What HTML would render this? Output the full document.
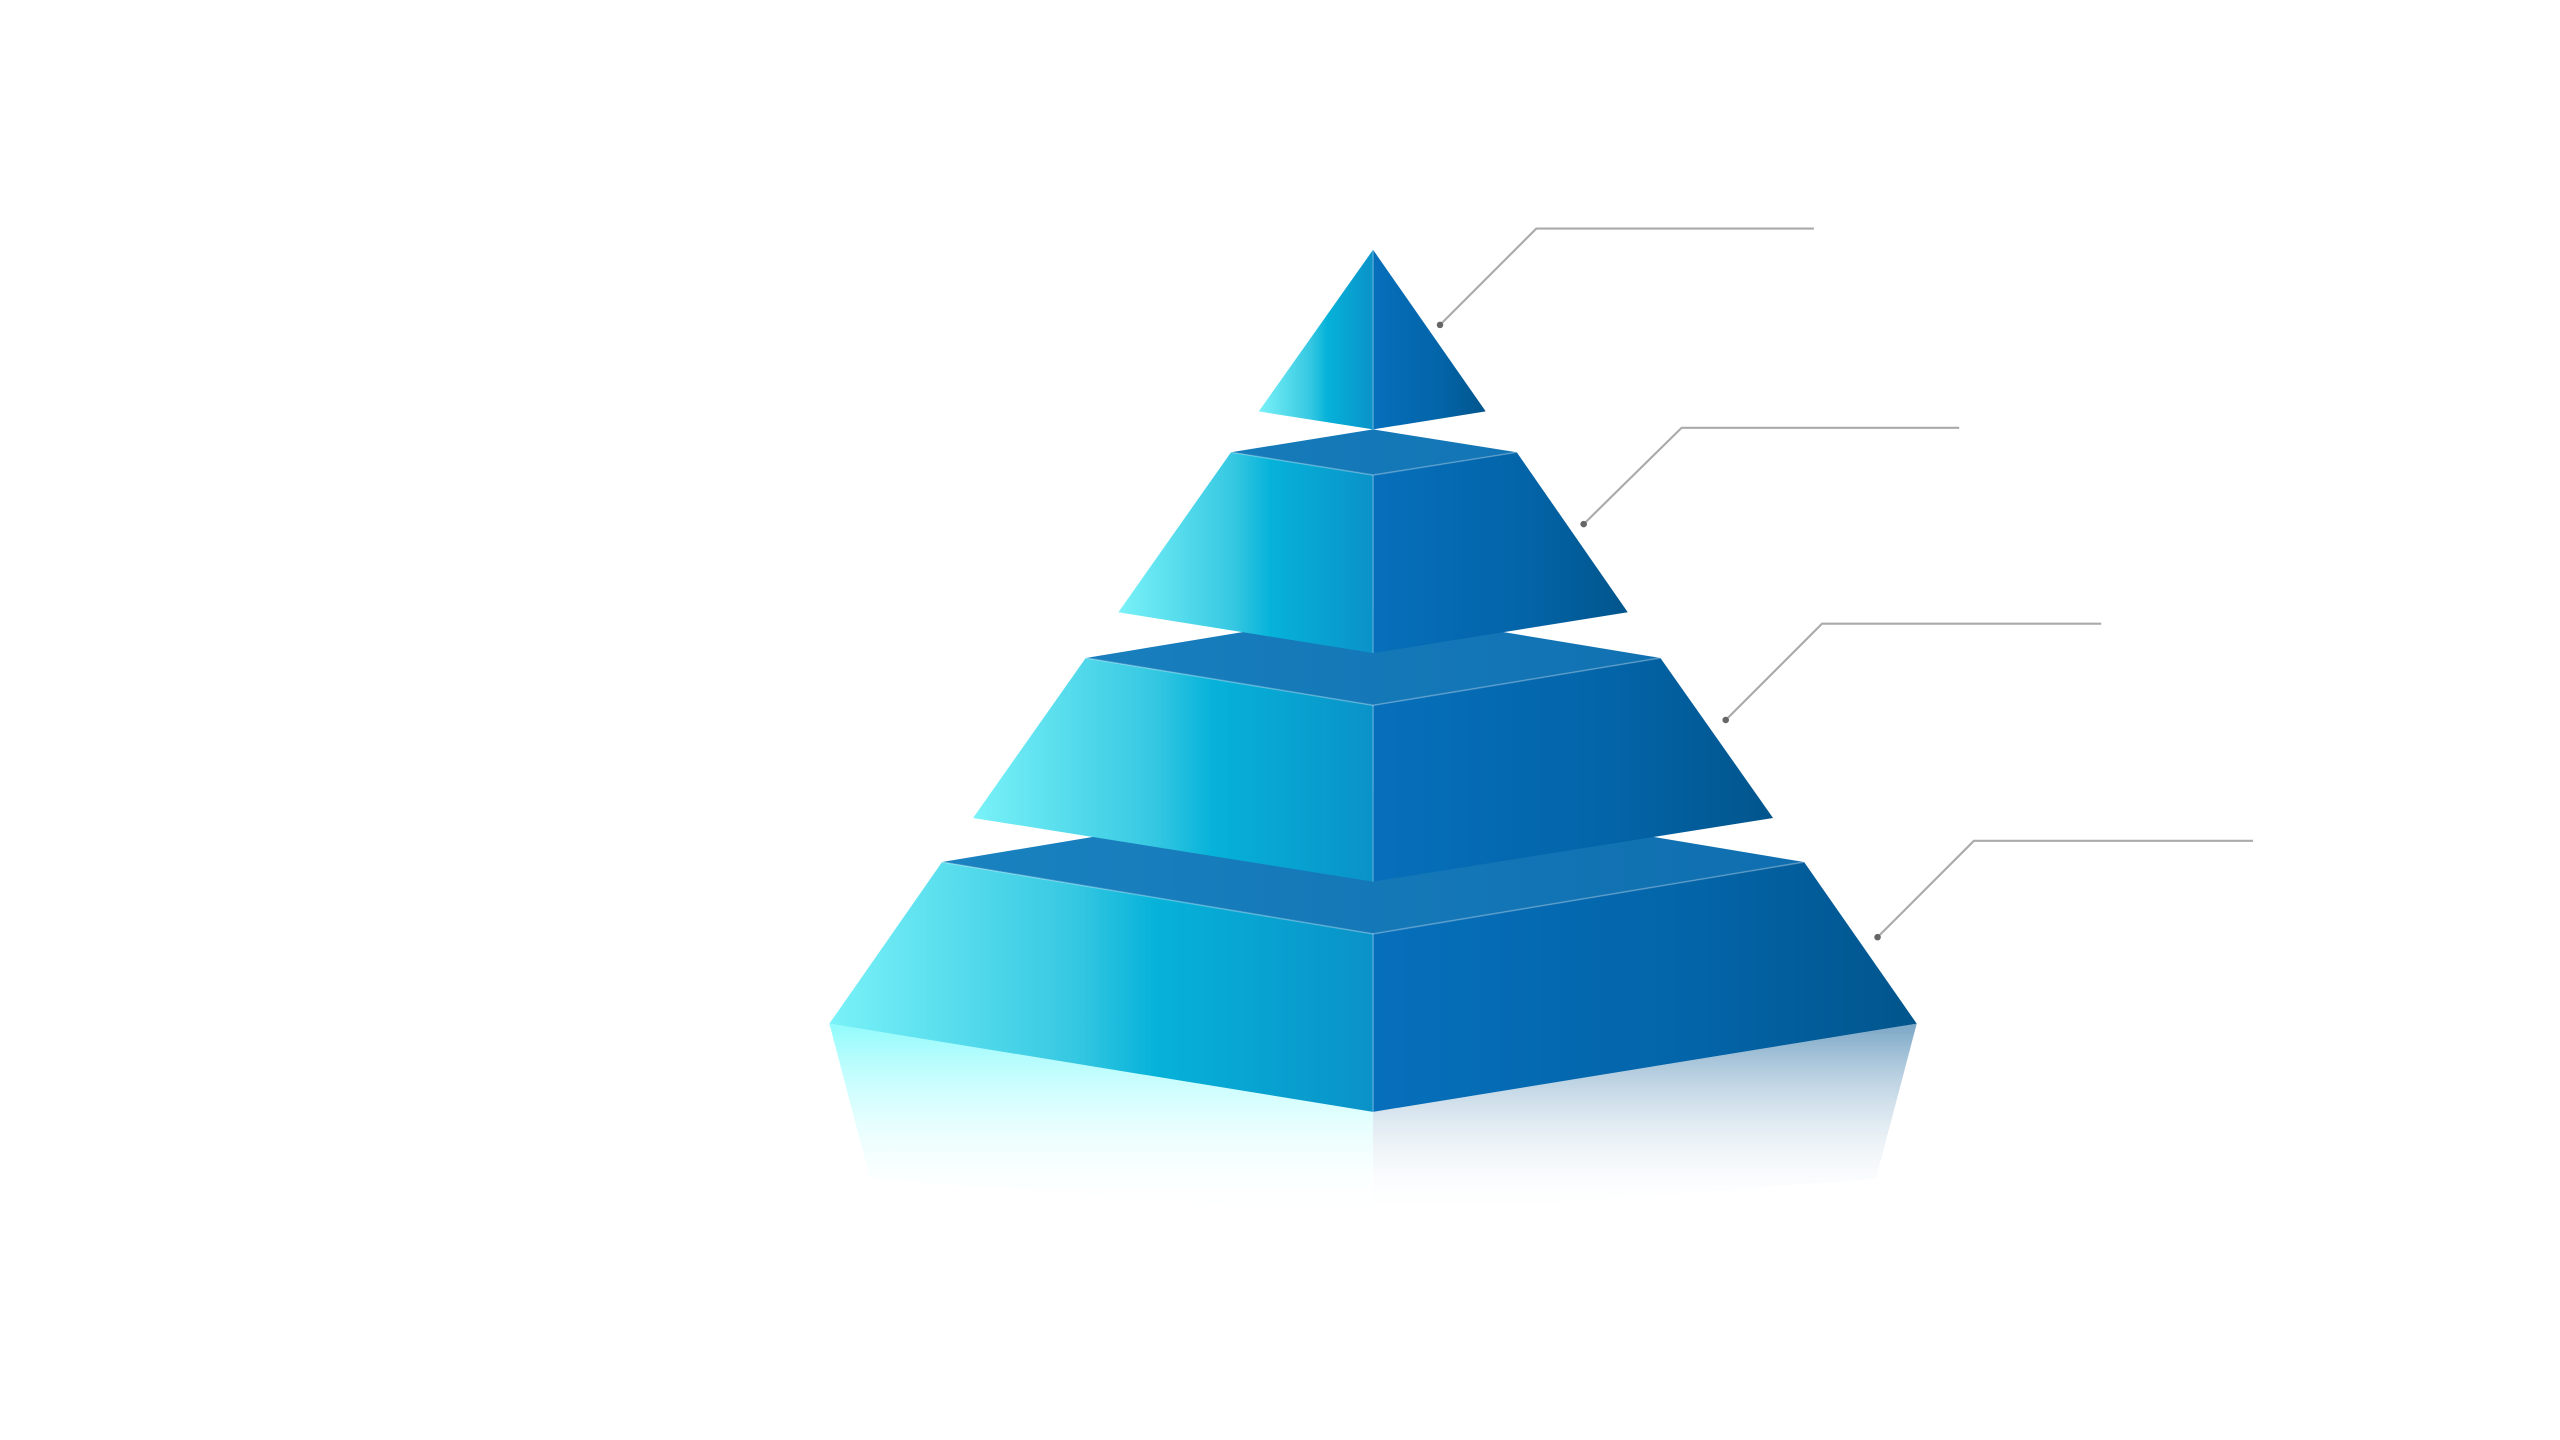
<!DOCTYPE html>
<html><head><meta charset="utf-8"><style>html,body{margin:0;padding:0;background:#fff;width:2560px;height:1440px;overflow:hidden}svg{display:block}</style></head>
<body>
<svg width="2560" height="1440" viewBox="0 0 1568 882" xmlns="http://www.w3.org/2000/svg">
<defs>
<linearGradient id="L" x1="0" y1="0" x2="1" y2="0">
<stop offset="0" stop-color="#7af2f8"/><stop offset="0.45" stop-color="#36c8e2"/><stop offset="0.6" stop-color="#06b2d9"/><stop offset="1" stop-color="#0a92c8"/></linearGradient>
<linearGradient id="R" x1="0" y1="0" x2="1" y2="0">
<stop offset="0" stop-color="#066fbb"/><stop offset="0.6" stop-color="#0364a8"/><stop offset="1" stop-color="#02558c"/></linearGradient>
<linearGradient id="T" gradientUnits="userSpaceOnUse" x1="577" y1="0" x2="1105" y2="0">
<stop offset="0" stop-color="#1a82c0"/><stop offset="1" stop-color="#0f6eaf"/></linearGradient>
<linearGradient id="RL" x1="0" y1="0" x2="0" y2="1">
<stop offset="0" stop-color="#90fbfc"/><stop offset="1" stop-color="#fff" stop-opacity="0"/></linearGradient>
<linearGradient id="RR" x1="0" y1="0" x2="0" y2="1">
<stop offset="0" stop-color="#7aa6c6"/><stop offset="1" stop-color="#fff" stop-opacity="0"/></linearGradient>
</defs>
<polygon points="508,627 841,681 841,745 533,722" fill="url(#RL)"/>
<polygon points="1174,627 841,681 841,745 1149,722" fill="url(#RR)"/>
<polygon points="577,528 841,484 1105,528 841,572" fill="url(#T)"/>
<polygon points="577,528 841,572 841,681 508,627" fill="url(#L)"/>
<polygon points="1105,528 841,572 841,681 1174,627" fill="url(#R)"/>
<polygon points="665,403 841,374 1017,403 841,432" fill="url(#T)"/>
<polygon points="665,403 841,432 841,540 596,501" fill="url(#L)"/>
<polygon points="1017,403 841,432 841,540 1086,501" fill="url(#R)"/>
<polygon points="754,277 841,263 929,277 841,291" fill="url(#T)"/>
<polygon points="754,277 841,291 841,400 685,375" fill="url(#L)"/>
<polygon points="929,277 841,291 841,400 997,375" fill="url(#R)"/>
<polygon points="841,153 841,263 771,252" fill="url(#L)"/>
<polygon points="841,153 841,263 910,252" fill="url(#R)"/>
<g stroke="#ffffff" stroke-opacity="0.25" stroke-width="1" fill="none">
<polyline points="577,528 841,572 1105,528"/><polyline points="665,403 841,432 1017,403"/><polyline points="754,277 841,291 929,277"/>
<line x1="841" y1="153" x2="841" y2="263"/><line x1="841" y1="291" x2="841" y2="400"/><line x1="841" y1="432" x2="841" y2="540"/><line x1="841" y1="572" x2="841" y2="681"/>
</g>
<g stroke="#aaaaaa" stroke-width="1.3" fill="none">
<polyline points="882,199 941,140 1111,140"/>
<polyline points="970,321 1030,262 1200,262"/>
<polyline points="1057,441 1116,382 1287,382"/>
<polyline points="1150,574 1209,515 1380,515"/>
</g>
<g fill="#666"><circle cx="882" cy="199" r="2"/><circle cx="970" cy="321" r="2"/><circle cx="1057" cy="441" r="2"/><circle cx="1150" cy="574" r="2"/></g>
</svg>
</body></html>
